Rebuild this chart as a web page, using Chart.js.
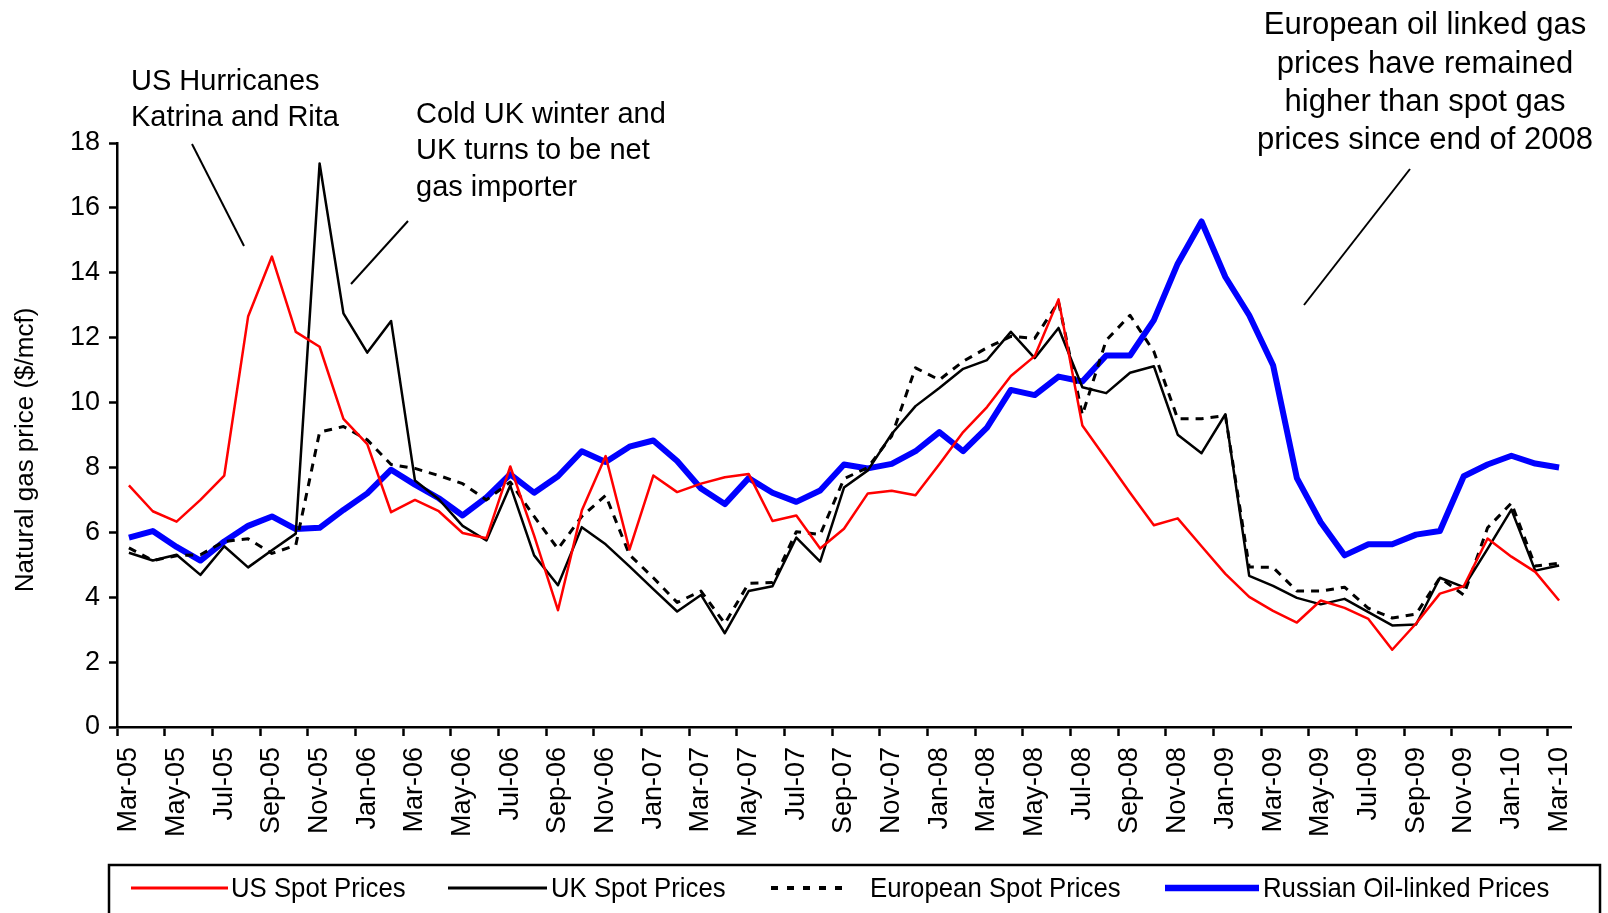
<!DOCTYPE html>
<html lang="en">
<head>
  <meta charset="UTF-8">
  <title>Natural gas prices 2005-2010</title>
  <script src="https://cdn.jsdelivr.net/npm/chart.js"></script>
  <style>
    body { margin: 0; background: #fff; }
    #wrap { width: 1608px; height: 913px; }
  </style>
</head>
<body>
  <div id="wrap"><canvas id="gasChart" width="1608" height="913"></canvas></div>

  <script>
    // monthly categories, Mar-05 .. Mar-10
    const months = [
      'Mar-05','Apr-05','May-05','Jun-05','Jul-05','Aug-05','Sep-05','Oct-05','Nov-05','Dec-05',
      'Jan-06','Feb-06','Mar-06','Apr-06','May-06','Jun-06','Jul-06','Aug-06','Sep-06','Oct-06','Nov-06','Dec-06',
      'Jan-07','Feb-07','Mar-07','Apr-07','May-07','Jun-07','Jul-07','Aug-07','Sep-07','Oct-07','Nov-07','Dec-07',
      'Jan-08','Feb-08','Mar-08','Apr-08','May-08','Jun-08','Jul-08','Aug-08','Sep-08','Oct-08','Nov-08','Dec-08',
      'Jan-09','Feb-09','Mar-09','Apr-09','May-09','Jun-09','Jul-09','Aug-09','Sep-09','Oct-09','Nov-09','Dec-09',
      'Jan-10','Feb-10','Mar-10'
    ];

    const usSpot = [
      7.45, 6.65, 6.33, 7.0, 7.75, 12.65, 14.5, 12.18, 11.72, 9.5,
      8.72, 6.62, 7.0, 6.65, 5.98, 5.82, 8.03, 5.9, 3.6, 6.67, 8.35, 5.47,
      7.75, 7.24, 7.5, 7.7, 7.8, 6.35, 6.52, 5.5, 6.11, 7.2, 7.28, 7.14,
      8.1, 9.09, 9.86, 10.82, 11.43, 13.18, 9.29, 8.26, 7.22, 6.22, 6.43, 5.57,
      4.72, 4.01, 3.58, 3.22, 3.9, 3.67, 3.33, 2.38, 3.19, 4.11, 4.34, 5.81,
      5.25, 4.78, 3.9
    ];
    const ukSpot = [
      5.37, 5.13, 5.31, 4.69, 5.57, 4.92, 5.45, 5.96, 17.37, 12.75,
      11.54, 12.51, 7.6, 7.02, 6.2, 5.75, 7.44, 5.29, 4.37, 6.16, 5.63, 4.95,
      4.25, 3.56, 4.07, 2.89, 4.19, 4.34, 5.84, 5.1, 7.38, 7.91, 9.03, 9.89,
      10.45, 11.04, 11.31, 12.18, 11.37, 12.3, 10.47, 10.29, 10.92, 11.12, 9.01, 8.44,
      9.64, 4.66, 4.35, 3.98, 3.78, 3.95, 3.54, 3.13, 3.16, 4.6, 4.31, 5.49,
      6.7, 4.82, 4.98
    ];
    const euroSpot = [
      5.52, 5.13, 5.28, 5.31, 5.72, 5.8, 5.35, 5.6, 9.09, 9.26,
      8.85, 8.09, 7.97, 7.75, 7.5, 7.0, 7.55, 6.49, 5.49, 6.49, 7.14, 5.31,
      4.6, 3.84, 4.19, 3.19, 4.43, 4.45, 6.02, 5.93, 7.65, 8.0, 8.97, 11.07,
      10.7, 11.27, 11.69, 12.04, 11.98, 13.1, 9.62, 11.92, 12.69, 11.57, 9.5, 9.5,
      9.6, 4.93, 4.92, 4.19, 4.19, 4.31, 3.66, 3.36, 3.48, 4.6, 4.07, 6.14,
      6.9, 4.96, 5.05
    ];
    const russianOil = [
      5.84, 6.04, 5.55, 5.13, 5.72, 6.2, 6.49, 6.1, 6.14, 6.69,
      7.2, 7.93, 7.47, 7.05, 6.52, 7.08, 7.79, 7.22, 7.73, 8.5, 8.17, 8.64,
      8.83, 8.2, 7.35, 6.87, 7.67, 7.22, 6.94, 7.29, 8.09, 7.97, 8.11, 8.5,
      9.09, 8.5, 9.23, 10.39, 10.23, 10.8, 10.65, 11.45, 11.45, 12.54, 14.28, 15.58,
      13.87, 12.69, 11.15, 7.67, 6.31, 5.29, 5.63, 5.63, 5.93, 6.04, 7.73, 8.09,
      8.36, 8.12, 8.0
    ];

    const seriesNames = ['US Spot Prices', 'UK Spot Prices', 'European Spot Prices', 'Russian Oil-linked Prices'];
    const yTicks = [0, 2, 4, 6, 8, 10, 12, 14, 16, 18];
    const yTitle = 'Natural gas price ($/mcf)';

    const notes = [
      { lines: ['US Hurricanes', 'Katrina and Rita'], x: 131, y: [82, 118], size: 29, align: 'left', from: [192, 144], to: [244, 246] },
      { lines: ['Cold UK winter and', 'UK turns to be net', 'gas importer'], x: 416, y: [115, 151, 188], size: 29, align: 'left', from: [408, 221], to: [351, 284] },
      { lines: ['European oil linked gas', 'prices have remained', 'higher than spot gas', 'prices since end of 2008'], x: 1425, y: [25, 64, 102, 140], size: 31, align: 'center', from: [1410, 169], to: [1304, 305] }
    ];

    const plain = '"Liberation Sans", Arial, sans-serif';

    // annotations with leader lines, plus the y axis title
    const notesPlugin = {
      id: 'notes',
      afterDraw(chart) {
        const ctx = chart.ctx;
        ctx.save();
        ctx.fillStyle = '#000';
        ctx.strokeStyle = '#000';
        ctx.lineWidth = 2;
        ctx.textBaseline = 'middle';
        notes.forEach(n => {
          ctx.font = n.size + 'px ' + plain;
          ctx.textAlign = n.align;
          n.lines.forEach((t, i) => ctx.fillText(t, n.x, n.y[i]));
          ctx.beginPath();
          ctx.moveTo(n.from[0], n.from[1]);
          ctx.lineTo(n.to[0], n.to[1]);
          ctx.stroke();
        });
        // y title, a little below the middle of the axis like the original
        ctx.translate(26, 450);
        ctx.rotate(-Math.PI / 2);
        ctx.textAlign = 'center';
        ctx.font = '26px ' + plain;
        ctx.fillText(yTitle, 0, 0);
        ctx.restore();
      }
    };

    // boxed legend along the bottom
    const legendStart = [131, 448, 771, 1165];
    const legendEnd = [228, 547, 851, 1259];
    const legendText = [231, 551, 870, 1263];
    const legendPlugin = {
      id: 'boxLegend',
      afterDraw(chart) {
        const ctx = chart.ctx;
        const y = 888;
        ctx.save();
        ctx.strokeStyle = '#000';
        ctx.lineWidth = 2.5;
        ctx.strokeRect(109, 865, 1491, 80);
        ctx.textBaseline = 'middle';
        chart.data.datasets.forEach((ds, i) => {
          ctx.beginPath();
          ctx.setLineDash(ds.borderDash ? [7, 9] : []);
          ctx.lineWidth = ds.borderDash ? 4 : ds.borderWidth + 0.5;
          ctx.strokeStyle = ds.borderColor;
          ctx.moveTo(legendStart[i], y);
          ctx.lineTo(legendEnd[i], y);
          ctx.stroke();
          ctx.setLineDash([]);
          // the original legend font is a narrow one
          ctx.save();
          ctx.translate(legendText[i], y + 1);
          ctx.scale(0.92, 1);
          ctx.font = '28px ' + plain;
          ctx.fillStyle = '#000';
          ctx.fillText(ds.label, 0, 0);
          ctx.restore();
        });
        ctx.restore();
      }
    };

    const ctx = document.getElementById('gasChart').getContext('2d');
    new Chart(ctx, {
      type: 'line',
      data: {
        labels: months,
        datasets: [
          { label: seriesNames[0], data: usSpot, borderColor: '#ff0000', borderWidth: 2.5 },
          { label: seriesNames[1], data: ukSpot, borderColor: '#000000', borderWidth: 2.5 },
          { label: seriesNames[2], data: euroSpot, borderColor: '#000000', borderWidth: 3, borderDash: [8, 7] },
          { label: seriesNames[3], data: russianOil, borderColor: '#0000ff', borderWidth: 6 }
        ]
      },
      options: {
        responsive: false,
        animation: false,
        elements: { point: { radius: 0 }, line: { tension: 0, borderJoinStyle: 'round' } },
        layout: { padding: { top: 143, right: 37, bottom: 0, left: 0 } },
        plugins: { legend: { display: false }, tooltip: { enabled: false } },
        scales: {
          x: {
            offset: true,
            grid: {
              offset: true,
              drawOnChartArea: false,
              tickLength: 9,
              tickWidth: 2.5,
              tickColor: c => (c.index % 2 === 0 ? '#000' : 'rgba(0,0,0,0)')
            },
            border: { color: '#000', width: 2.5 },
            ticks: {
              autoSkip: false,
              minRotation: 90,
              maxRotation: 90,
              padding: 11,
              color: '#000',
              font: { family: plain, size: 27 },
              callback: (v, i) => (i % 2 === 0 ? months[i] : '')
            },
            afterFit: s => { s.height = 186; }
          },
          y: {
            min: 0,
            max: 18,
            afterBuildTicks: s => { s.ticks = yTicks.map(v => ({ value: v })); },
            grid: { drawOnChartArea: false, tickLength: 8, tickWidth: 2.5, tickColor: '#000' },
            border: { color: '#000', width: 2.5 },
            ticks: { padding: 9, color: '#000', font: { family: plain, size: 27 } },
            afterFit: s => { s.width = 117; }
          }
        }
      },
      plugins: [notesPlugin, legendPlugin]
    });
  </script>
</body>
</html>
